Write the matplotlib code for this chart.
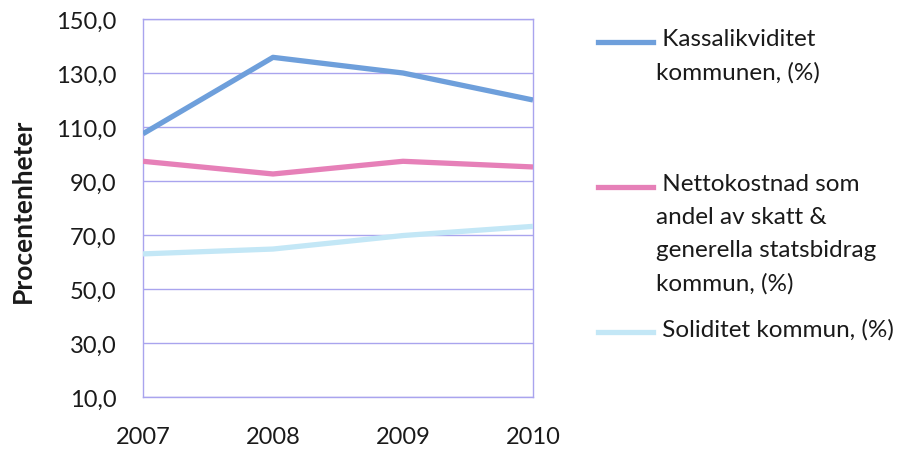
import matplotlib
matplotlib.use("Agg")
import matplotlib.pyplot as plt
from matplotlib.lines import Line2D

plt.rcParams['font.family'] = ['Lato', 'DejaVu Sans']

years = [2007, 2008, 2009, 2010]
year_labels = ["2007", "2008", "2009", "2010"]
kassalikviditet = [107.5, 135.8, 130.0, 120.0]
nettokostnad = [97.3, 92.6, 97.3, 95.2]
soliditet = [63.0, 64.8, 69.8, 73.2]
y_ticks = [10, 30, 50, 70, 90, 110, 130, 150]
series_names = [
    " Kassalikviditet\nkommunen, (%)",
    " Nettokostnad som\nandel av skatt &\ngenerella statsbidrag\nkommun, (%)",
    " Soliditet kommun, (%)",
]

colors = ["#6e9fdb", "#e680b8", "#c3e7f6"]
grid_color = "#a9a4ee"
text_color = "#1a1a1a"

fig = plt.figure(figsize=(9.08, 4.52), dpi=100)
ax = fig.add_axes([143 / 908, 54 / 452, 390 / 908, 378 / 452])

for vals, c in zip([kassalikviditet, nettokostnad, soliditet], colors):
    ax.plot(years, vals, color=c, lw=3.8, solid_capstyle="butt", zorder=3)

ax.set_xlim(years[0], years[-1])
ax.set_ylim(10, 150)
ax.set_yticks(y_ticks)
ax.set_yticklabels([f"{v:.1f}".replace(".", ",") for v in y_ticks])
ax.set_xticks(years)
ax.set_xticklabels(year_labels)
ax.set_xticks(years[1:-1], minor=True)
ax.tick_params(axis="x", which="major", length=0, pad=21, labelsize=17, colors=text_color)
ax.tick_params(axis="x", which="minor", length=5, direction="in", color=grid_color, width=1)
ax.tick_params(axis="y", length=0, pad=19, labelsize=17, colors=text_color)
ax.grid(axis="y", color=grid_color, lw=1)
for s in ax.spines.values():
    s.set_color(grid_color)
    s.set_linewidth(1)

fig.text(23 / 908, 1 - 211 / 452, "Procentenheter", rotation=90, ha="center", va="center",
         fontsize=19, fontweight="bold", color=text_color)

# Legend drawn beside the plot
leg_y = [43, 188, 333]
for name, c, yy in zip(series_names, colors, leg_y):
    fy = 1 - yy / 452
    fig.add_artist(Line2D([598 / 908, 653 / 908], [fy, fy], color=c, lw=3.8,
                          transform=fig.transFigure))
    fig.text(656 / 908, fy + 14 / 452, name, ha="left", va="top", fontsize=17.5,
             color=text_color, linespacing=1.7)

fig.savefig("out.png", dpi=100)
